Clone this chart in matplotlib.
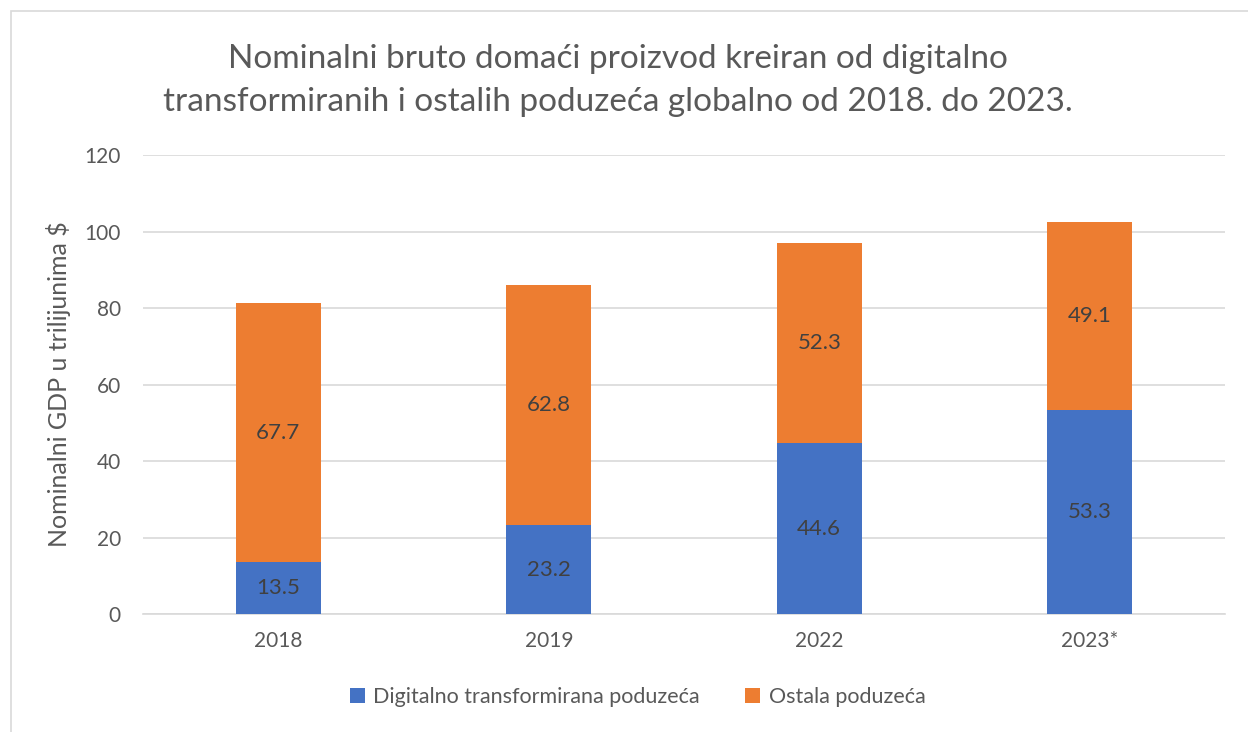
import numpy as np
import matplotlib.pyplot as plt
from matplotlib.patches import Rectangle

plt.rcParams['font.family'] = ['Lato', 'DejaVu Sans']

years = ["2018", "2019", "2022", "2023*"]
digital = [13.5, 23.2, 44.6, 53.3]
ostala = [67.7, 62.8, 52.3, 49.1]

blue = "#4472C4"
orange = "#ED7D31"
txt = "#595959"

fig = plt.figure(figsize=(12.48, 7.32), dpi=100)
ax = fig.add_axes([143/1248, 1-614/732, (1225-143)/1248, (614-155)/732])

x = np.arange(len(years))
w = 0.314
b1 = ax.bar(x, digital, w, color=blue, label="Digitalno transformirana poduzeća", zorder=3)
b2 = ax.bar(x, ostala, w, bottom=digital, color=orange, label="Ostala poduzeća", zorder=3)

for i in range(len(years)):
    ax.text(x[i], digital[i]/2, f"{digital[i]:.1f}", ha="center", va="center",
            fontsize=16, color="#404040", zorder=4)
    ax.text(x[i], digital[i] + ostala[i]/2, f"{ostala[i]:.1f}", ha="center", va="center",
            fontsize=16, color="#404040", zorder=4)

ax.set_xlim(-0.5, 3.5)
ax.set_ylim(0, 120)
ax.set_yticks(range(0, 121, 20))
ax.set_xticks(x)
ax.set_xticklabels(years)
ax.grid(axis="y", color="#D9D9D9", linewidth=1.2, zorder=0)
for s in ["top", "right", "left"]:
    ax.spines[s].set_visible(False)
ax.spines["bottom"].set_color("#D9D9D9")
ax.spines["bottom"].set_linewidth(1.2)
ax.tick_params(axis="both", length=0, labelsize=15, colors=txt, pad=12)
ax.tick_params(axis="y", pad=16)
ax.set_ylabel("Nominalni GDP u trilijunima $", fontsize=18, color=txt, labelpad=10)

fig.text(0.495, 0.89, "Nominalni bruto domaći proizvod kreiran od digitalno\n"
         "transformiranih i ostalih poduzeća globalno od 2018. do 2023.",
         ha="center", va="center", fontsize=24, color=txt, linespacing=1.55)

leg = fig.legend(handles=[b1, b2], loc="center", bbox_to_anchor=(0.511, 1-697/732),
                 ncol=2, frameon=False, fontsize=15.5, handlelength=0.7, handleheight=0.7,
                 columnspacing=2.1, handletextpad=0.4)
for t in leg.get_texts():
    t.set_color(txt)

fig.patches.append(Rectangle((11/1248, -0.1), 1.2, 1-11/732+0.1, transform=fig.transFigure,
                             fill=False, edgecolor="#D9D9D9", linewidth=1.2))

fig.savefig("out.png", dpi=100)
